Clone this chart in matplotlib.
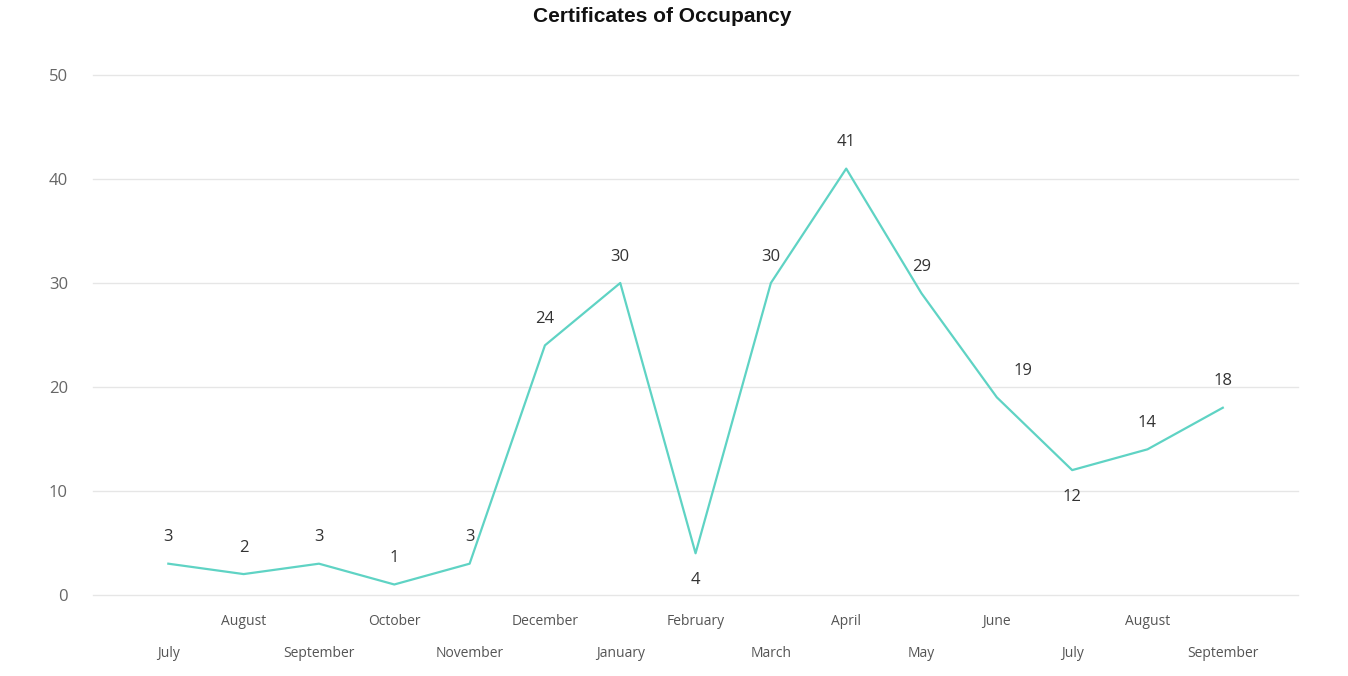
import matplotlib
matplotlib.use("Agg")
import matplotlib.pyplot as plt

months = ['July', 'August', 'September', 'October', 'November', 'December',
          'January', 'February', 'March', 'April', 'May', 'June',
          'July', 'August', 'September']
counts = [3, 2, 3, 1, 3, 24, 30, 4, 30, 41, 29, 19, 12, 14, 18]
# labels sitting under the point instead of above
below = [7, 12]
y_ticks = [0, 10, 20, 30, 40, 50]

plt.rcParams['font.family'] = ['Open Sans', 'DejaVu Sans']

fig = plt.figure(figsize=(13.48, 6.76), dpi=100)
ax = fig.add_axes([0.069, 0.12, 0.894, 0.769])

x = list(range(len(counts)))
ax.plot(x, counts, color='#5FD3C4', linewidth=1.6, zorder=3)

for i, v in enumerate(counts):
    dy = -19 if i in below else 19
    dx = 19 if i == 11 else 0
    ax.annotate(str(v), (i, v), xytext=(dx, dy), textcoords='offset points',
                ha='center', va='center', fontsize=12, color='#333333')

ax.set_xlim(-1, 15)
ax.set_ylim(0, 50)
ax.set_yticks(y_ticks)
ax.set_yticklabels([str(t) for t in y_ticks], fontsize=12, color='#666666')
ax.tick_params(axis='y', length=0, pad=18)
ax.grid(axis='y', color='#e6e6e6', linewidth=1)
for gl in ax.get_ygridlines():
    gl.set_clip_on(False)
ax.set_axisbelow(True)
for s in ax.spines.values():
    s.set_visible(False)

# staggered month labels in two rows
ax.set_xticks(x)
ax.set_xticklabels([])
ax.tick_params(axis='x', length=0)
for i, m in enumerate(months):
    off = -42 if i % 2 == 0 else -19.5
    ax.annotate(m, (i, 0), xytext=(0, off), textcoords='offset points',
                ha='center', va='center', fontsize=10, color='#555555',
                annotation_clip=False)

fig.text(0.491, 0.975, 'Certificates of Occupancy', ha='center', va='center',
         fontsize=15, fontweight='bold', family='Liberation Sans', color='#111111')

fig.savefig('out.png', dpi=100)
